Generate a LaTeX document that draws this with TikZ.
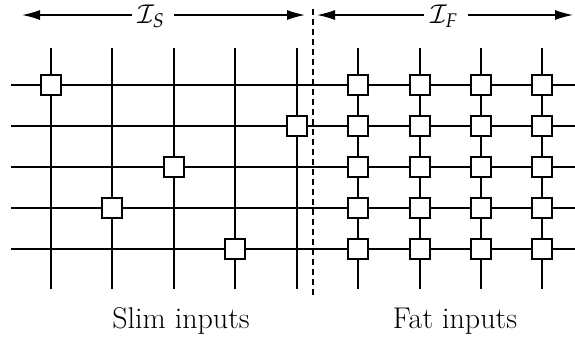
\documentclass[tikz,border=0pt]{standalone}
\usepackage{mathpazo}
\usetikzlibrary{arrows.meta}
\begin{document}
\begin{tikzpicture}[x=1pt,y=-1pt,
  gridline/.style={line width=1.4pt},
  sw/.style={draw,line width=1.4pt,fill=white,minimum size=20pt,inner sep=0pt},
  dim/.style={line width=1.4pt,{Latex[length=18pt,width=10pt]}-{Latex[length=18pt,width=10pt]}},
  lab/.style={fill=white,inner sep=1pt,font=\fontsize{26}{28}\selectfont},
  captext/.style={font=\fontsize{30}{32}\selectfont}]
\useasboundingbox (0,0) rectangle (575,341);
% columns
\foreach \n/\x in {1/51,2/112,3/174,4/235,5/297,6/358,7/420,8/481,9/542}{
  \coordinate (t\n) at (\x,48);
  \coordinate (b\n) at (\x,289);
  \draw[gridline] (t\n) -- (b\n);
}
% rows
\foreach \m/\y in {1/85,2/126,3/167,4/208,5/249}{
  \coordinate (l\m) at (11,\y);
  \coordinate (r\m) at (575,\y);
  \draw[gridline] (l\m) -- (r\m);
}
% divider
\coordinate (dtop) at (313,9);
\coordinate (dbot) at (313,298);
\draw[line width=1.2pt,dash pattern=on 6pt off 4pt] (dtop) -- (dbot);
% slim boxes
\node[sw] (s1) at (51,85) {};
\node[sw] (s2) at (297,126) {};
\node[sw] (s3) at (174,167) {};
\node[sw] (s4) at (112,208) {};
\node[sw] (s5) at (235,249) {};
% fat boxes
\foreach \n/\x in {6/358,7/420,8/481,9/542}{
  \foreach \y in {85,126,167,208,249}{
    \node[sw] (f\n-\y) at (\x,\y) {};
  }
}
% dimension arrows
\coordinate (al) at (22,15);
\coordinate (ar) at (305,15);
\coordinate (bl) at (317,15);
\coordinate (br) at (573,15);
\draw[dim] (al) -- (ar);
\draw[dim] (bl) -- (br);
\node[lab,anchor=base] (is) at (153,23) {\,$\mathcal{I}_S$\,\,};
\node[lab,anchor=base] (if) at (446,23) {\,$\mathcal{I}_F$\,\,};
% captions
\node[captext] (slim) at (181,321) {Slim inputs};
\node[captext] (fat) at (455,321) {Fat inputs};
\end{tikzpicture}
\end{document}
